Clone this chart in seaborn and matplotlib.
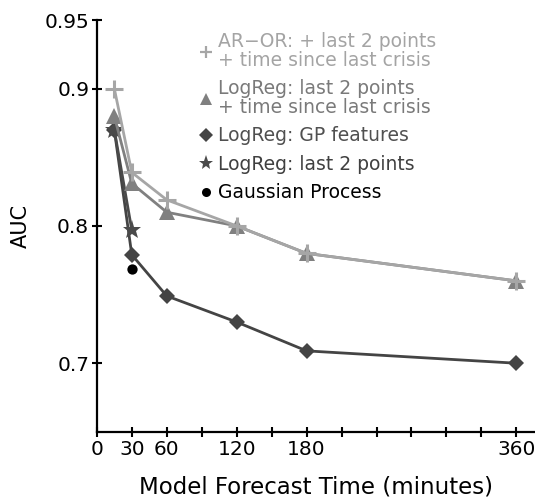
import numpy as np
import pandas as pd
import matplotlib
matplotlib.use("Agg")
import matplotlib.pyplot as plt
import seaborn as sns
from matplotlib.lines import Line2D

# Data
minutes = [15, 30, 60, 120, 180, 360]
auc_aror = [0.900, 0.839, 0.819, 0.800, 0.780, 0.760]
auc_logreg_time = [0.880, 0.831, 0.810, 0.800, 0.780, 0.760]
auc_logreg_gp = [0.870, 0.779, 0.749, 0.730, 0.709, 0.700]
minutes_last2 = [15, 30]
auc_logreg_last2 = [0.870, 0.797]
minutes_gp = [30]
auc_gp = [0.769]

xtick_pos = list(range(0, 361, 30))
xtick_shown = [0, 30, 60, 120, 180, 360]
ytick_pos = [0.7, 0.8, 0.9, 0.95]
ytick_labels = ["0.7", "0.8", "0.9", "0.95"]

labels = [
    "AR\u2212OR: + last 2 points\n+ time since last crisis",
    "LogReg: last 2 points\n+ time since last crisis",
    "LogReg: GP features",
    "LogReg: last 2 points",
    "Gaussian Process",
]
colors = ["#a6a6a6", "#808080", "#444444", "#4a4a4a", "#000000"]
text_colors = ["#a4a4a4", "#7a7a7a", "#505050", "#404040", "#000000"]

sns.set_style("ticks", {"axes.edgecolor": "black", "text.color": "black",
                        "axes.labelcolor": "black", "xtick.color": "black",
                        "ytick.color": "black"})
plt.rcParams["font.family"] = ["DejaVu Sans"]

fig = plt.figure(figsize=(5.35, 5.01), dpi=100)
ax = fig.add_axes([0.181, 0.138, 0.819, 0.822])

df_main = pd.DataFrame({"minutes": minutes, "aror": auc_aror,
                        "time": auc_logreg_time, "gp": auc_logreg_gp})

sns.lineplot(data=df_main, x="minutes", y="gp", ax=ax, color=colors[2],
             marker="D", markersize=8, linewidth=2, markeredgewidth=0)
sns.lineplot(x=minutes_last2, y=auc_logreg_last2, ax=ax, color=colors[3],
             marker="*", markersize=14, linewidth=2, markeredgewidth=0)
sns.lineplot(data=df_main, x="minutes", y="time", ax=ax, color=colors[1],
             marker="^", markersize=11, linewidth=2, markeredgewidth=0)
sns.lineplot(data=df_main, x="minutes", y="aror", ax=ax, color=colors[0],
             marker="+", markersize=13, linewidth=2, markeredgewidth=2.2,
             markeredgecolor=colors[0])
sns.scatterplot(x=minutes_gp, y=auc_gp, ax=ax, color=colors[4], s=55,
                linewidth=0)

ax.set_xlim(0, 376)
ax.set_ylim(0.65, 0.95)
ax.set_xticks(xtick_pos)
ax.set_xticklabels([str(t) if t in xtick_shown else "" for t in xtick_pos])
ax.set_yticks(ytick_pos)
ax.set_yticklabels(ytick_labels)
ax.tick_params(direction="inout", length=7, width=1.5, labelsize=14.5, pad=2,
               colors="black")
ax.set_xlabel("Model Forecast Time (minutes)", fontsize=16.5, labelpad=12)
ax.set_ylabel("AUC", fontsize=15, labelpad=10)
sns.despine(ax=ax)
for s in ["left", "bottom"]:
    ax.spines[s].set_linewidth(1.6)
    ax.spines[s].set_color("black")

handles = [
    Line2D([], [], linestyle="none", marker="+", markersize=9,
           markeredgewidth=1.6, color=colors[0]),
    Line2D([], [], linestyle="none", marker="^", markersize=9,
           markeredgewidth=0, color=colors[1]),
    Line2D([], [], linestyle="none", marker="D", markersize=7,
           markeredgewidth=0, color=colors[2]),
    Line2D([], [], linestyle="none", marker="*", markersize=11,
           markeredgewidth=0, color=colors[3]),
    Line2D([], [], linestyle="none", marker="o", markersize=6.5,
           markeredgewidth=0, color=colors[4]),
]
leg = ax.legend(handles, labels, loc="upper left", bbox_to_anchor=(0.22, 0.99),
                frameon=False, fontsize=13.5, handlelength=0.6,
                handletextpad=0.3, labelspacing=0.5, borderaxespad=0)
for txt, c in zip(leg.get_texts(), text_colors):
    txt.set_color(c)
    txt.set_linespacing(1.0)

fig.savefig("out.png", dpi=100)
